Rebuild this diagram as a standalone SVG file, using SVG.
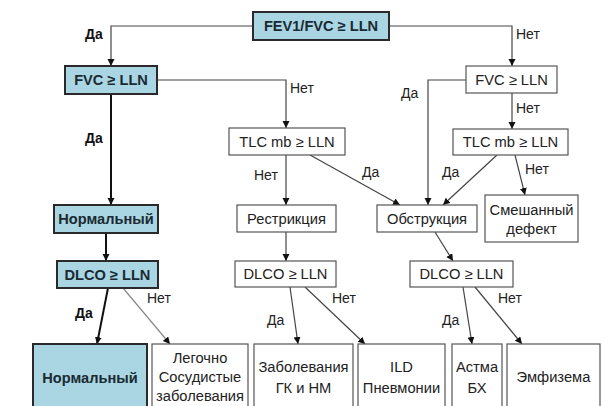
<svg xmlns="http://www.w3.org/2000/svg" width="611" height="406" viewBox="0 0 611 406">
<style>
.bg{fill:#fff}
.b{fill:#fff;stroke:#555;stroke-width:1.2}
.k{fill:#a9d6e2;stroke:#2a2a2a;stroke-width:2}
.t{font-family:"Liberation Sans",Arial,sans-serif;font-size:14.7px;fill:#222;text-anchor:middle}
.tb{font-family:"Liberation Sans",Arial,sans-serif;font-size:14.6px;font-weight:bold;fill:#1a2a33;text-anchor:middle}
.l{font-family:"Liberation Sans",Arial,sans-serif;font-size:14px;fill:#222}
.lb{font-family:"Liberation Sans",Arial,sans-serif;font-size:14px;font-weight:bold;fill:#111}
.c{fill:none;stroke:#444;stroke-width:1.2;marker-end:url(#ah)}
.cb{fill:none;stroke:#111;stroke-width:2;marker-end:url(#ah)}
.cg{fill:none;stroke:#888;stroke-width:1.2;marker-end:url(#ah)}
</style>
<defs>
<marker id="ah" markerUnits="userSpaceOnUse" markerWidth="8" markerHeight="8" refX="7" refY="3.5" orient="auto">
<path d="M0,0 L7,3.5 L0,7 Z" fill="#111"/>
</marker>
</defs>
<rect class="bg" x="0" y="0" width="611" height="406"/>
<g id="connectors">
<path class="c" d="M253,26 H111 V66"/>
<path class="c" d="M389,26 H512 V66"/>
<path class="c" d="M157,80 H286 V128"/>
<path class="cb" d="M111,94 V205"/>
<path class="c" d="M466,80 H428 V205"/>
<path class="c" d="M512,93 V129"/>
<path class="c" d="M286,155 V205"/>
<path class="c" d="M310,155 L400,205"/>
<path class="c" d="M497,155 L443,205"/>
<path class="c" d="M515,155 L525,195"/>
<path class="cb" d="M106,233 V261"/>
<path class="c" d="M286,232 V261"/>
<path class="c" d="M435,232 L453,261"/>
<path class="cb" d="M108,288 L97,344"/>
<path class="cg" d="M123,288 L170,344"/>
<path class="c" d="M290,287 L298,344"/>
<path class="c" d="M305,287 L365,344"/>
<path class="c" d="M463,287 L472,344"/>
<path class="c" d="M475,287 L522,344"/>
<text class="lb" x="85" y="39">Да</text>
<text class="l" x="516" y="39">Нет</text>
<text class="l" x="290" y="93">Нет</text>
<text class="lb" x="85" y="143">Да</text>
<text class="l" x="401" y="98">Да</text>
<text class="l" x="516" y="113">Нет</text>
<text class="l" x="254" y="180">Нет</text>
<text class="l" x="362" y="177">Да</text>
<text class="l" x="442" y="177">Да</text>
<text class="l" x="525" y="174">Нет</text>
<text class="lb" x="75" y="318">Да</text>
<text class="l" x="147" y="303">Нет</text>
<text class="l" x="267" y="325">Да</text>
<text class="l" x="332" y="303">Нет</text>
<text class="l" x="442" y="325">Да</text>
<text class="l" x="498" y="303">Нет</text>
</g>
<g id="n_fev"><rect class="k" x="253" y="12" width="136" height="28"/><text class="tb" x="321" y="31">FEV1/FVC ≥ LLN</text></g>
<g id="n_fvc1"><rect class="k" x="65" y="66" width="92" height="28"/><text class="tb" x="111" y="85">FVC ≥ LLN</text></g>
<g id="n_fvc2"><rect class="b" x="466" y="66" width="91" height="27"/><text class="t" x="511.5" y="84.5">FVC ≥ LLN</text></g>
<g id="n_tlc1"><rect class="b" x="229" y="128" width="116" height="27"/><text class="t" x="287" y="146.5">TLC mb ≥ LLN</text></g>
<g id="n_tlc2"><rect class="b" x="453" y="129" width="115" height="26"/><text class="t" x="510.5" y="147">TLC mb ≥ LLN</text></g>
<g id="n_norm1"><rect class="k" x="54" y="205" width="104" height="28"/><text class="tb" x="106" y="224">Нормальный</text></g>
<g id="n_restr"><rect class="b" x="237" y="205" width="99" height="27"/><text class="t" x="286.5" y="223.5">Рестрикция</text></g>
<g id="n_obstr"><rect class="b" x="377" y="205" width="100" height="27"/><text class="t" x="427" y="223.5">Обструкция</text></g>
<g id="n_mixed"><rect class="b" x="485" y="195" width="93" height="47"/><text class="t" x="531.5" y="215">Смешанный</text><text class="t" x="531.5" y="234">дефект</text></g>
<g id="n_dlco1"><rect class="k" x="57" y="261" width="101" height="27"/><text class="tb" x="107.5" y="279.5">DLCO ≥ LLN</text></g>
<g id="n_dlco2"><rect class="b" x="235" y="261" width="101" height="26"/><text class="t" x="285.5" y="279">DLCO ≥ LLN</text></g>
<g id="n_dlco3"><rect class="b" x="410" y="261" width="103" height="26"/><text class="t" x="461.5" y="279">DLCO ≥ LLN</text></g>
<g id="n_norm2"><rect class="k" x="33" y="344" width="114" height="70"/><text class="tb" x="90" y="383">Нормальный</text></g>
<g id="n_pulm"><rect class="b" x="152" y="344" width="96" height="70"/><text class="t" x="200" y="363">Легочно</text><text class="t" x="200" y="382">Сосудистые</text><text class="t" x="200" y="401">заболевания</text></g>
<g id="n_gk"><rect class="b" x="254" y="344" width="99" height="70"/><text class="t" x="303.5" y="372">Заболевания</text><text class="t" x="303.5" y="393">ГК и НМ</text></g>
<g id="n_ild"><rect class="b" x="358" y="344" width="87" height="70"/><text class="t" x="401.5" y="372">ILD</text><text class="t" x="401.5" y="393">Пневмонии</text></g>
<g id="n_asthma"><rect class="b" x="452" y="344" width="50" height="70"/><text class="t" x="477" y="372">Астма</text><text class="t" x="477" y="393">БХ</text></g>
<g id="n_emph"><rect class="b" x="507" y="344" width="93" height="70"/><text class="t" x="553.5" y="382">Эмфизема</text></g>
</svg>
